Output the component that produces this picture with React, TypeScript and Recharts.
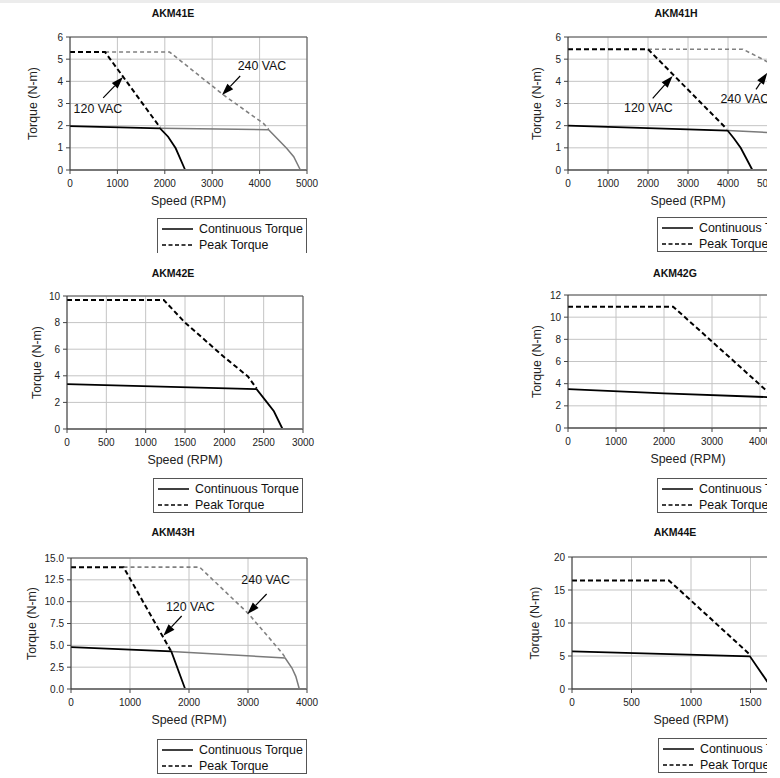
import React from 'react'
import {
  LineChart,
  Line,
  XAxis,
  YAxis,
  CartesianGrid,
  ReferenceLine,
  ReferenceDot,
  Legend
} from 'recharts'

type Pt = [number, number]

// text
const legendLabels = ['Continuous Torque', 'Peak Torque']
const voltLow = '120 VAC'
const voltHigh = '240 VAC'
const xLabel = 'Speed (RPM)'
const yLabel = 'Torque (N-m)'

// AKM41E
const akm41eContLow: Pt[] = [[0, 1.98], [1900, 1.88], [2070, 1.5], [2230, 0.98], [2430, 0]]
const akm41eContHigh: Pt[] = [[1900, 1.88], [4190, 1.82], [4570, 0.98], [4720, 0.6], [4860, 0]]
const akm41ePeakLow: Pt[] = [[0, 5.32], [740, 5.32], [1900, 1.92]]
const akm41ePeakHigh: Pt[] = [[740, 5.32], [2100, 5.32], [2320, 4.95], [3230, 3.4], [4080, 2.1], [4190, 1.85]]

// AKM41H
const akm41hContLow: Pt[] = [[0, 2.0], [3990, 1.78], [4150, 1.42], [4320, 0.99], [4610, 0]]
const akm41hContHigh: Pt[] = [[3990, 1.78], [5000, 1.69]]
const akm41hPeakLow: Pt[] = [[0, 5.45], [2000, 5.45], [3970, 1.85]]
const akm41hPeakHigh: Pt[] = [[2000, 5.45], [4370, 5.45], [5000, 4.87]]

// AKM42E
const akm42eCont: Pt[] = [[0, 3.38], [2410, 3.0], [2530, 2.1], [2630, 1.33], [2740, 0]]
const akm42ePeak: Pt[] = [[0, 9.7], [1230, 9.7], [1500, 8.0], [2000, 5.4], [2300, 3.95], [2410, 3.05]]

// AKM42G
const akm42gCont: Pt[] = [[0, 3.5], [2000, 3.12], [4200, 2.78]]
const akm42gPeak: Pt[] = [[0, 10.95], [2190, 10.95], [3000, 7.8], [4000, 3.9], [4200, 3.1]]

// AKM43H
const akm43hContLow: Pt[] = [[0, 4.8], [1700, 4.3], [1935, 0]]
const akm43hContHigh: Pt[] = [[1700, 4.3], [3630, 3.55], [3745, 2.4], [3810, 1.45], [3870, 0]]
const akm43hPeakLow: Pt[] = [[0, 13.95], [890, 13.95], [1690, 4.4]]
const akm43hPeakHigh: Pt[] = [[890, 13.95], [2180, 13.95], [3010, 8.6], [3580, 4.1], [3630, 3.6]]

// AKM44E
const akm44eCont: Pt[] = [[0, 5.7], [1495, 4.95], [1640, 1.15], [1685, 0]]
const akm44ePeak: Pt[] = [[0, 16.45], [815, 16.45], [1490, 5.3]]

// ticks
const xTicks5000 = [0, 1000, 2000, 3000, 4000, 5000]
const xTicks6000 = [0, 1000, 2000, 3000, 4000, 5000, 6000]
const xTicks3000 = [0, 500, 1000, 1500, 2000, 2500, 3000]
const xTicks4000 = [0, 1000, 2000, 3000, 4000]
const xTicks2000 = [0, 500, 1000, 1500, 2000]
const yTicks6 = [0, 1, 2, 3, 4, 5, 6]
const yTicks10 = [0, 2, 4, 6, 8, 10]
const yTicks12 = [0, 2, 4, 6, 8, 10, 12]
const yTicks15 = [0, 2.5, 5, 7.5, 10, 12.5, 15]
const yTicks20 = [0, 5, 10, 15, 20]

const FONT = '"Liberation Sans", Arial, Helvetica, sans-serif'
const YW = 70 // y axis width
const MT = 37 // top margin to plot
const XH = 40 // x axis height
const H = 256
const LABEL_FS = 12.4

type Kind = 'contLow' | 'contHigh' | 'peakLow' | 'peakHigh'
const STYLES: Record<Kind, { stroke: string; width: number; dash?: string }> = {
  contHigh: { stroke: '#7a7a7a', width: 1.5 },
  peakHigh: { stroke: '#808080', width: 1.6, dash: '4 3' },
  peakLow: { stroke: '#000', width: 2, dash: '5 3' },
  contLow: { stroke: '#000', width: 1.8 }
}

interface Note { text: string; at: Pt; from: Pt; to: Pt }
interface ChartCfg {
  title: string
  series: { kind: Kind; pts: Pt[] }[]
  xTicks: number[]
  yTicks: number[]
  yFmt?: (v: number) => string
  notes: Note[]
  plotLeft: number
  plotTop: number
  plotW: number
  plotH: number
  titleX: number
  titleY: number
  yLabelX: number
  legendX: number
  legendY: number
  legendOpen?: boolean
  clip?: number
}

const toRows = (pts: Pt[]) => pts.map(([rpm, torque]) => ({ rpm, torque }))

const charts: ChartCfg[] = [
  {
    title: 'AKM41E',
    series: [
      { kind: 'peakHigh', pts: akm41ePeakHigh },
      { kind: 'contHigh', pts: akm41eContHigh },
      { kind: 'peakLow', pts: akm41ePeakLow },
      { kind: 'contLow', pts: akm41eContLow }
    ],
    xTicks: xTicks5000,
    yTicks: yTicks6,
    notes: [
      { text: voltHigh, at: [4050, 4.69], from: [3590, 4.24], to: [3207, 3.38] },
      { text: voltLow, at: [590, 2.75], from: [700, 3.25], to: [1118, 4.19] }
    ],
    plotLeft: 70, plotTop: 37, plotW: 237, plotH: 133,
    titleX: 173, titleY: 12.7, yLabelX: 33, legendX: 157, legendY: 218, legendOpen: true
  },
  {
    title: 'AKM41H',
    series: [
      { kind: 'peakHigh', pts: akm41hPeakHigh },
      { kind: 'contHigh', pts: akm41hContHigh },
      { kind: 'peakLow', pts: akm41hPeakLow },
      { kind: 'contLow', pts: akm41hContLow }
    ],
    xTicks: xTicks6000,
    yTicks: yTicks6,
    notes: [
      { text: voltLow, at: [2010, 2.83], from: [2117, 3.23], to: [2617, 4.24] },
      { text: voltHigh, at: [4420, 3.2], from: [4700, 3.64], to: [4983, 4.39] }
    ],
    plotLeft: 568, plotTop: 37, plotW: 240, plotH: 133,
    titleX: 676, titleY: 13.3, yLabelX: 537, legendX: 657, legendY: 217, clip: 767
  },
  {
    title: 'AKM42E',
    series: [
      { kind: 'peakLow', pts: akm42ePeak },
      { kind: 'contLow', pts: akm42eCont }
    ],
    xTicks: xTicks3000,
    yTicks: yTicks10,
    notes: [],
    plotLeft: 67, plotTop: 296, plotW: 236, plotH: 133,
    titleX: 173, titleY: 272.7, yLabelX: 37, legendX: 153, legendY: 478
  },
  {
    title: 'AKM42G',
    series: [
      { kind: 'peakLow', pts: akm42gPeak },
      { kind: 'contLow', pts: akm42gCont }
    ],
    xTicks: xTicks5000,
    yTicks: yTicks12,
    notes: [],
    plotLeft: 568, plotTop: 295, plotW: 240, plotH: 133,
    titleX: 675, titleY: 272.7, yLabelX: 537, legendX: 657, legendY: 478, clip: 767
  },
  {
    title: 'AKM43H',
    series: [
      { kind: 'peakHigh', pts: akm43hPeakHigh },
      { kind: 'contHigh', pts: akm43hContHigh },
      { kind: 'peakLow', pts: akm43hPeakLow },
      { kind: 'contLow', pts: akm43hContLow }
    ],
    xTicks: xTicks4000,
    yTicks: yTicks15,
    yFmt: (v: number) => v.toFixed(1),
    notes: [
      { text: voltHigh, at: [3300, 12.49], from: [3316, 10.88], to: [2989, 8.59] },
      { text: voltLow, at: [2022, 9.47], from: [1876, 8.36], to: [1565, 6.1] }
    ],
    plotLeft: 71, plotTop: 558, plotW: 236, plotH: 131,
    titleX: 173, titleY: 532.3, yLabelX: 32, legendX: 157, legendY: 739
  },
  {
    title: 'AKM44E',
    series: [
      { kind: 'peakLow', pts: akm44ePeak },
      { kind: 'contLow', pts: akm44eCont }
    ],
    xTicks: xTicks2000,
    yTicks: yTicks20,
    notes: [],
    plotLeft: 572, plotTop: 557, plotW: 238, plotH: 132,
    titleX: 675, titleY: 532.3, yLabelX: 535, legendX: 658, legendY: 738, clip: 767
  }
]

// arrow drawn from the segment that recharts scales for us
const Arrow = (p: any) => {
  const { x1, y1, x2, y2 } = p
  const a = Math.atan2(y2 - y1, x2 - x1)
  const L = 12
  const W = 4
  const bx = x2 - L * Math.cos(a)
  const by = y2 - L * Math.sin(a)
  const pts = [
    `${x2},${y2}`,
    `${bx + W * Math.sin(a)},${by - W * Math.cos(a)}`,
    `${bx - W * Math.sin(a)},${by + W * Math.cos(a)}`
  ].join(' ')
  return (
    <g>
      <line x1={x1} y1={y1} x2={bx} y2={by} stroke="#000" strokeWidth={1.2} />
      <polygon points={pts} fill="#000" />
    </g>
  )
}

const LegendBox = ({ open }: { open?: boolean }) => (
  <div
    style={{
      width: 150,
      height: 35,
      boxSizing: 'border-box',
      border: '1px solid #555',
      borderBottom: open ? 'none' : '1px solid #555',
      background: '#fff',
      paddingTop: 2,
      fontFamily: FONT,
      fontSize: LABEL_FS,
      color: '#111'
    }}
  >
    {legendLabels.map((lbl, i) => (
      <div key={lbl} style={{ display: 'flex', alignItems: 'center', height: 16 }}>
        <svg width={31} height={4} style={{ marginLeft: 4, marginRight: 6, flexShrink: 0 }}>
          <line
            x1={0}
            y1={2}
            x2={31}
            y2={2}
            stroke="#000"
            strokeWidth={1.5}
            strokeDasharray={i === 1 ? '4 2.5' : undefined}
          />
        </svg>
        <span style={{ whiteSpace: 'nowrap' }}>{lbl}</span>
      </div>
    ))}
  </div>
)

const TorqueChart = ({ cfg }: { cfg: ChartCfg }) => {
  const boxLeft = cfg.plotLeft - YW
  const boxTop = cfg.plotTop - MT
  const width = YW + cfg.plotW + 12
  const xMax = cfg.xTicks[cfg.xTicks.length - 1]
  const yMax = cfg.yTicks[cfg.yTicks.length - 1]
  const clipW = cfg.clip ? cfg.clip - boxLeft : width
  return (
    <div style={{ position: 'absolute', left: boxLeft, top: boxTop, width: clipW, height: H, overflow: 'hidden' }}>
      <div
        style={{
          position: 'absolute',
          left: cfg.titleX - boxLeft - 60,
          top: cfg.titleY - boxTop - 7,
          width: 120,
          lineHeight: '14px',
          textAlign: 'center',
          fontWeight: 'bold',
          fontSize: 10.5,
          color: '#111',
          zIndex: 2
        }}
      >
        {cfg.title}
      </div>
      <LineChart
        width={width}
        height={H}
        margin={{ top: MT, right: 12, bottom: H - MT - cfg.plotH - XH, left: 0 }}
      >
        <CartesianGrid stroke="#c4c4c4" />
        <XAxis
          type="number"
          dataKey="rpm"
          domain={[0, xMax]}
          ticks={cfg.xTicks}
          interval={0}
          height={XH}
          tickSize={4}
          tickMargin={6}
          tick={{ fontSize: 10, fill: '#222' }}
          tickLine={{ stroke: '#444' }}
          axisLine={{ stroke: '#777', strokeWidth: 2 }}
          label={{ value: xLabel, position: 'insideBottom', offset: 5, fontSize: LABEL_FS, fill: '#222' }}
        />
        <YAxis
          type="number"
          domain={[0, yMax]}
          ticks={cfg.yTicks}
          interval={0}
          width={YW}
          tickSize={4}
          tickMargin={3}
          tickFormatter={cfg.yFmt}
          tick={{ fontSize: 10, fill: '#222' }}
          tickLine={{ stroke: '#444' }}
          axisLine={{ stroke: '#333' }}
          label={{
            value: yLabel,
            angle: -90,
            position: 'insideLeft',
            offset: cfg.yLabelX - boxLeft,
            fontSize: LABEL_FS,
            fill: '#222',
            style: { textAnchor: 'middle' }
          }}
        />
        <ReferenceLine y={yMax} stroke="#555" />
        <ReferenceLine x={xMax} stroke="#555" />
        {cfg.series.map((s, i) => {
          const st = STYLES[s.kind]
          return (
            <Line
              key={`${s.kind}-${i}`}
              data={toRows(s.pts)}
              dataKey="torque"
              type="linear"
              stroke={st.stroke}
              strokeWidth={st.width}
              strokeDasharray={st.dash}
              dot={false}
              activeDot={false}
              isAnimationActive={false}
              legendType="none"
            />
          )
        })}
        {cfg.notes.map((n) => (
          <ReferenceLine
            key={`arrow-${n.text}`}
            ifOverflow="visible"
            segment={[
              { x: n.from[0], y: n.from[1] },
              { x: n.to[0], y: n.to[1] }
            ]}
            shape={Arrow}
          />
        ))}
        {cfg.notes.map((n) => (
          <ReferenceDot
            key={`text-${n.text}`}
            x={n.at[0]}
            y={n.at[1]}
            r={0}
            fill="none"
            stroke="none"
            ifOverflow="visible"
            label={{ value: n.text, position: 'center', fontSize: LABEL_FS, fill: '#111' }}
          />
        ))}
        <Legend
          layout="horizontal"
          verticalAlign="middle"
          align="center"
          wrapperStyle={{ left: cfg.legendX - boxLeft, top: cfg.legendY - boxTop, width: 150, height: 35 }}
          content={() => <LegendBox open={cfg.legendOpen} />}
        />
      </LineChart>
    </div>
  )
}

export default function App() {
  return (
    <div
      style={{
        position: 'absolute',
        left: 0,
        top: 0,
        width: 780,
        height: 778,
        overflow: 'hidden',
        background: '#fff',
        fontFamily: FONT
      }}
    >
      <div style={{ position: 'absolute', left: 0, top: 0, width: 780, height: 3, background: '#ececec' }} />
      {charts.map((c) => (
        <TorqueChart key={c.title} cfg={c} />
      ))}
    </div>
  )
}
